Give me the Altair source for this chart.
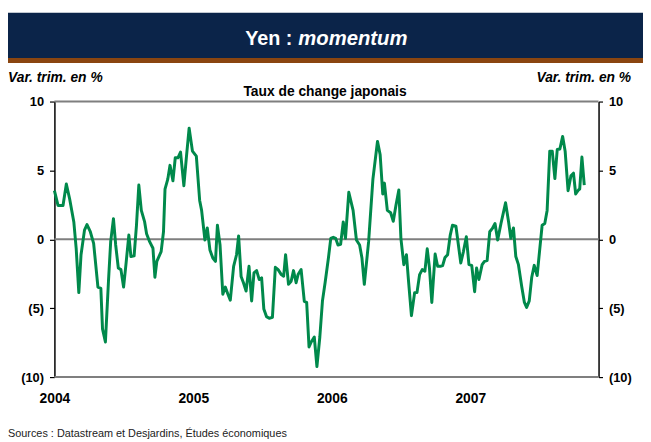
import altair as alt
import pandas as pd

# years elapsed since 2004-01-01 and quarterly change in %
YEARS = [0.000, 0.026, 0.062, 0.086, 0.110, 0.140, 0.157, 0.176, 0.192, 0.217, 0.235, 0.259, 0.283,
         0.314, 0.335, 0.347, 0.368, 0.390, 0.406, 0.426, 0.442, 0.461, 0.480, 0.499, 0.516, 0.537,
         0.552, 0.575, 0.592, 0.609, 0.627, 0.651, 0.665, 0.687, 0.711, 0.725, 0.739, 0.770, 0.787,
         0.798, 0.818, 0.834, 0.855, 0.872, 0.891, 0.910, 0.934, 0.953, 0.972, 0.996, 1.024, 1.048,
         1.062, 1.086, 1.103, 1.122, 1.143, 1.162, 1.176, 1.195, 1.215, 1.233, 1.252, 1.269, 1.293,
         1.314, 1.329, 1.347, 1.364, 1.383, 1.404, 1.423, 1.440, 1.459, 1.478, 1.495, 1.511, 1.530,
         1.550, 1.573, 1.594, 1.614, 1.637, 1.654, 1.668, 1.689, 1.708, 1.725, 1.744, 1.758, 1.780,
         1.803, 1.820, 1.837, 1.853, 1.875, 1.894, 1.915, 1.934, 1.953, 1.977, 1.994, 2.012, 2.029,
         2.046, 2.065, 2.084, 2.100, 2.124, 2.155, 2.179, 2.202, 2.219, 2.236, 2.267, 2.298, 2.331,
         2.350, 2.369, 2.381, 2.402, 2.426, 2.445, 2.464, 2.485, 2.500, 2.521, 2.540, 2.555, 2.576,
         2.599, 2.616, 2.635, 2.654, 2.673, 2.690, 2.706, 2.723, 2.747, 2.765, 2.785, 2.801, 2.818,
         2.837, 2.856, 2.872, 2.897, 2.932, 2.951, 2.972, 2.991, 3.011, 3.032, 3.046, 3.063, 3.086,
         3.103, 3.122, 3.141, 3.160, 3.179, 3.198, 3.222, 3.255, 3.277, 3.293, 3.312, 3.329, 3.348,
         3.371, 3.391, 3.407, 3.426, 3.444, 3.462, 3.483, 3.500, 3.519, 3.538, 3.555, 3.574, 3.592,
         3.611, 3.628, 3.647, 3.667, 3.685, 3.706, 3.727, 3.745, 3.761, 3.781, 3.790, 3.806, 3.823]

VALUES = [3.53, 2.46, 2.46, 4.01, 2.93, 1.26, -0.65, -3.87, -1.12, 0.67, 1.07, 0.55, -0.29,
          -3.47, -3.56, -6.50, -7.45, -3.04, -0.17, 1.50, -0.41, -2.08, -2.20, -3.47, -1.84, 0.31,
          -1.25, -1.20, 1.02, 3.94, 2.10, 1.26, 0.40, -0.17, -0.65, -2.75, -1.60, -0.89, 0.55,
          3.65, 4.37, 5.37, 4.25, 5.92, 5.92, 6.33, 3.89, 6.04, 8.07, 6.40, 6.04, 2.82,
          2.10, -0.05, 0.83, -0.77, -1.36, -1.60, 1.02, -0.41, -3.99, -3.47, -3.99, -4.42, -1.96,
          -1.12, 0.25, -2.70, -3.15, -3.75, -1.96, -4.47, -2.44, -2.27, -2.92, -2.80, -5.06, -5.61,
          -5.73, -5.66, -2.03, -2.20, -2.56, -2.68, -1.12, -3.27, -3.04, -2.27, -3.15, -2.56, -2.20,
          -4.51, -4.58, -7.81, -7.45, -7.09, -9.24, -7.09, -4.47, -3.15, -1.36, 0.07, 0.15, 0.07,
          -0.41, -0.36, 1.26, 0.07, 3.41, 2.10, -0.05, -0.41, -1.36, -3.27, -0.17, 4.37, 7.11,
          6.16, 3.29, 4.08, 2.10, 1.93, 1.31, 2.46, 3.58, 0.07, -1.84, -1.12, -3.04, -5.54,
          -3.87, -3.87, -2.56, -2.20, -2.32, -0.69, -2.08, -4.58, -1.07, -1.96, -1.96, -1.91, -1.32,
          -1.12, 0.31, 1.02, 0.95, -1.72, -0.89, 0.19, -1.84, -1.89, -3.80, -2.08, -2.92, -1.84,
          -1.60, -1.55, 0.55, 0.79, 1.15, -0.05, 1.15, 2.65, 1.26, 0.07, 0.83, -1.25, -1.84,
          -3.39, -4.58, -4.94, -4.47, -2.75, -1.89, -2.63, -0.89, 1.02, 1.15, 2.10, 6.40, 6.40,
          4.41, 6.52, 6.56, 7.47, 6.40, 3.53, 4.61, 4.80, 3.29, 3.58, 3.65, 5.97, 3.94]

X_LABEL_YEARS = [2004, 2005, 2006, 2007]
Y_TICKS = [-10, -5, 0, 5, 10]
GRID = [-10, 0, 10]

TITLE_A = "Yen :"
TITLE_B = "momentum"
UNIT = "Var. trim. en %"
SUBTITLE = "Taux de change japonais"
SOURCE = "Sources : Datastream et Desjardins, Études économiques"

start = pd.Timestamp("2004-01-01")
df = pd.DataFrame({
    "date": [start + pd.Timedelta(days=t * 365.25) for t in YEARS],
    "val": VALUES,
})
one = pd.DataFrame({"k": [0]})
grid_df = pd.DataFrame({"g": GRID})

FONT = "Liberation Sans"
NAVY = "#0b2449"
BROWN = "#8a4510"
GREEN = "#00894b"
W, H = 551, 279

xscale = alt.Scale(domain=[alt.DateTime(year=2004, month=1, date=1),
                           alt.DateTime(year=2007, month=12, date=5)])
yscale = alt.Scale(domain=[-10, 10], nice=False, zero=False)

xaxis = alt.Axis(values=[alt.DateTime(year=y, month=1, date=1) for y in X_LABEL_YEARS],
                 format="%Y", labelFlush=False, ticks=False, domain=False, grid=False,
                 labelFont=FONT, labelFontWeight="bold", labelFontSize=14, labelColor="black",
                 labelPadding=15, title=None)

left_axis = alt.Axis(values=Y_TICKS, orient="left", grid=False, tickSize=5, tickColor="black",
                     tickWidth=1.2, domainColor="black", domainWidth=1.5, labelPadding=6,
                     labelFont=FONT, labelFontSize=13, labelFontWeight="bold", labelColor="black",
                     labelExpr="datum.value < 0 ? '(' + abs(datum.value) + ')' : datum.value + '\u00a0'",
                     title=None)
right_axis = alt.Axis(values=Y_TICKS, orient="right", grid=False, tickSize=4, tickColor="black",
                      tickWidth=1.2, domainColor="black", domainWidth=1.5, labelPadding=6,
                      labelFont=FONT, labelFontSize=13, labelFontWeight="bold", labelColor="black",
                      labelExpr="datum.value < 0 ? '(' + abs(datum.value) + ')' : '' + datum.value",
                      title=None)

grid = alt.Chart(grid_df).mark_rule(color="#7f7f7f", strokeWidth=2).encode(
    y=alt.Y("g:Q", scale=yscale, axis=None))

line = alt.Chart(df).mark_line(color=GREEN, strokeWidth=3, strokeJoin="round").encode(
    x=alt.X("date:T", scale=xscale, axis=xaxis),
    y=alt.Y("val:Q", scale=yscale, axis=left_axis))

line_r = alt.Chart(df).mark_line(opacity=0).encode(
    x=alt.X("date:T", scale=xscale, axis=xaxis),
    y=alt.Y("val:Q", scale=yscale, axis=right_axis))

bar = alt.Chart(one).mark_rect(color=NAVY).encode(
    x=alt.value(-47), x2=alt.value(596), y=alt.value(-90), y2=alt.value(-44))
stripe = alt.Chart(one).mark_rect(color=BROWN).encode(
    x=alt.value(-47), x2=alt.value(596), y=alt.value(-44), y2=alt.value(-39))

def txt(s, x, y, align="left", size=12, weight="bold", style="normal", color="black"):
    return alt.Chart(one).mark_text(text=s, align=align, baseline="alphabetic", font=FONT,
                                    fontSize=size, fontWeight=weight, fontStyle=style,
                                    color=color).encode(x=alt.value(x), y=alt.value(y))

t1 = txt(TITLE_A, 241, -57, align="right", size=20, color="white")
t2 = txt(TITLE_B, 247, -57, align="left", size=20.5, style="italic", color="white")
u1 = txt(UNIT, -47, -20, align="left", size=14, style="italic")
u2 = txt(UNIT, 584, -20, align="right", size=14, style="italic")
sub = txt(SUBTITLE, 274, -6, align="center", size=14)
src = txt(SOURCE, -47, 340, align="left", size=11, weight="normal", color="#222222")

chart = alt.layer(bar, stripe, t1, t2, u1, u2, sub, src, grid, line, line_r).resolve_axis(
    y="independent", x="shared").properties(
    width=W, height=H,
    autosize=alt.AutoSizeParams(type="none"),
    padding={"left": 47, "top": 92, "right": 45, "bottom": 63},
    background="white",
).configure_view(stroke=None)

chart.save("out.html", embed_options={"renderer": "svg", "actions": False})
